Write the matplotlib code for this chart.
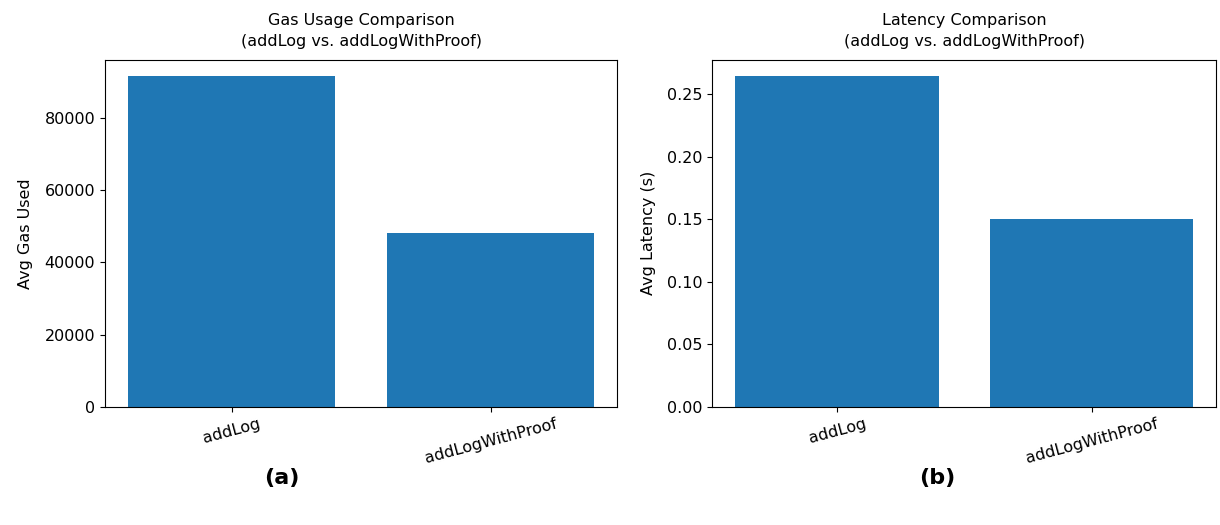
import matplotlib
matplotlib.use('Agg')
import matplotlib.pyplot as plt

functions = ['addLog', 'addLogWithProof']
avg_gas = [91400, 48200]
avg_latency = [0.2645, 0.1503]

plt.rcParams['font.family'] = ['DejaVu Sans']
plt.rcParams['xtick.labelsize'] = 11.5
plt.rcParams['ytick.labelsize'] = 11.5

fig = plt.figure(figsize=(12.2, 5.25), dpi=100)

# Left panel: gas usage
ax1 = fig.add_axes([0.086, 0.225, 0.42, 0.661])
ax1.bar(functions, avg_gas, color='#1f77b4')
ax1.set_title('Gas Usage Comparison\n(addLog vs. addLogWithProof)',
              fontsize=11.5, linespacing=1.5, pad=10)
ax1.set_ylabel('Avg Gas Used', fontsize=11.5, labelpad=8)
ax1.tick_params(axis='x', labelrotation=15)

# Right panel: latency
ax2 = fig.add_axes([0.584, 0.225, 0.413, 0.661])
ax2.bar(functions, avg_latency, color='#1f77b4')
ax2.set_title('Latency Comparison\n(addLog vs. addLogWithProof)',
              fontsize=11.5, linespacing=1.5, pad=10)
ax2.set_ylabel('Avg Latency (s)', fontsize=11.5, labelpad=8)
ax2.tick_params(axis='x', labelrotation=15)

fig.text(0.231, 0.09, '(a)', fontsize=16, fontweight='bold', ha='center', va='center')
fig.text(0.768, 0.09, '(b)', fontsize=16, fontweight='bold', ha='center', va='center')

fig.savefig('out.png', dpi=100)
